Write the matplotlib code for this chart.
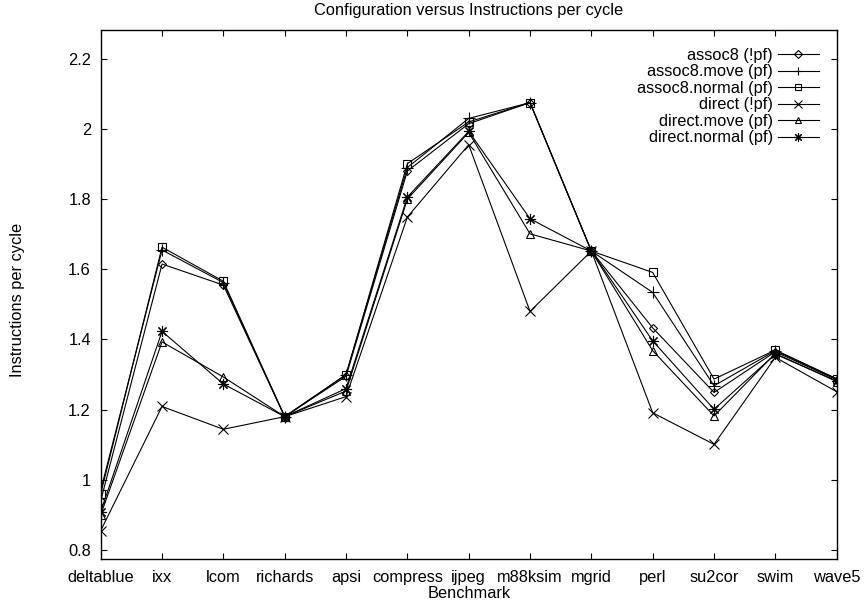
import numpy as np
import matplotlib
matplotlib.use("Agg")
import matplotlib.pyplot as plt
from matplotlib.ticker import FuncFormatter

plt.rcParams['font.family'] = ['Liberation Sans', 'DejaVu Sans']

benchmarks = ["deltablue", "ixx", "lcom", "richards", "apsi", "compress", "ijpeg",
              "m88ksim", "mgrid", "perl", "su2cor", "swim", "wave5"]

assoc8_npf = [0.94, 1.615, 1.555, 1.18, 1.295, 1.88, 2.015, 2.075, 1.652, 1.433, 1.249, 1.365, 1.285]
assoc8_move = [0.97, 1.655, 1.562, 1.18, 1.30, 1.89, 2.03, 2.075, 1.652, 1.534, 1.268, 1.368, 1.287]
assoc8_normal = [0.96, 1.663, 1.566, 1.18, 1.299, 1.901, 2.02, 2.075, 1.652, 1.591, 1.287, 1.370, 1.288]
direct_npf = [0.855, 1.209, 1.144, 1.18, 1.237, 1.749, 1.955, 1.48, 1.652, 1.191, 1.101, 1.349, 1.251]
direct_move = [0.90, 1.393, 1.293, 1.18, 1.253, 1.80, 1.99, 1.701, 1.652, 1.368, 1.182, 1.36, 1.28]
direct_normal = [0.909, 1.423, 1.273, 1.18, 1.26, 1.806, 1.993, 1.744, 1.652, 1.396, 1.201, 1.358, 1.282]

series = [
    ("assoc8 (!pf)", assoc8_npf, "D", 4.5),
    ("assoc8.move (pf)", assoc8_move, "+", 8),
    ("assoc8.normal (pf)", assoc8_normal, "s", 6),
    ("direct (!pf)", direct_npf, "x", 7),
    ("direct.move (pf)", direct_move, "^", 6),
    ("direct.normal (pf)", direct_normal, (8, 2, 0), 8),
]

fs = 11.8

fig = plt.figure(figsize=(8.64, 6.06), dpi=100)
ax = fig.add_axes([100.7/864, 1-559.3/606, (836.7-100.7)/864, (559.3-30)/606])

x = np.arange(len(benchmarks))
for name, vals, mk, ms in series:
    ax.plot(x, vals, color="black", lw=0.8, marker=mk, markersize=ms,
            markerfacecolor="none", markeredgecolor="black", markeredgewidth=0.8,
            label=name)

ax.set_xlim(0, 12)
ax.set_ylim(0.7734, 2.282)
ax.set_xticks(x)
ax.set_xticklabels(benchmarks)
ax.set_yticks(np.arange(0.8, 2.21, 0.2))
ax.yaxis.set_major_formatter(FuncFormatter(lambda v, p: f"{v:g}"))
ax.tick_params(direction="in", length=4.5, width=0.8, top=True, right=True,
               labelsize=fs, colors="black")
ax.tick_params(axis="y", pad=7)
ax.tick_params(axis="x", pad=7.5)
for s in ax.spines.values():
    s.set_linewidth(1.0)

fig.text(468.7/864, 1-10/606, "Configuration versus Instructions per cycle",
         ha="center", va="center", fontsize=fs)
fig.text(468.7/864, 1-593/606, "Benchmark", ha="center", va="center", fontsize=fs)
fig.text(18/864, 1-300/606, "Instructions per cycle", ha="center", va="center",
         rotation=90, fontsize=fs)

ax.legend(loc="upper right", bbox_to_anchor=(1-18/736, 1-18/529.3), frameon=False,
          markerfirst=False, fontsize=fs, handlelength=2.5, handletextpad=0.3,
          labelspacing=0.09, borderpad=0, borderaxespad=0, markerscale=0.8)

fig.savefig("out.png", dpi=100)
